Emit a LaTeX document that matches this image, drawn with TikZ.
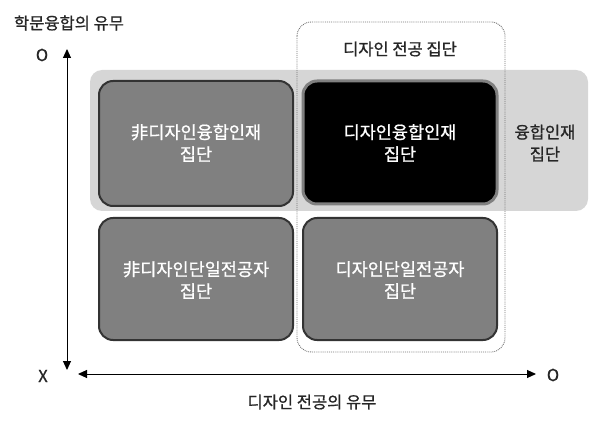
\documentclass[tikz,border=0pt]{standalone}
\usepackage{fontspec}
\setmainfont{Noto Sans CJK KR}[FakeBold=0.9]
\usetikzlibrary{arrows.meta}
\begin{document}
\begin{tikzpicture}[x=1pt,y=-1pt,
  lbl/.style={font=\fontsize{16.5}{19}\selectfont, text=black!85},
  grpbox/.style={rounded corners=14pt, line width=2pt, draw=black!80, fill=black!50},
  boxtxt/.style={font=\fontsize{17.5}{22}\selectfont, text=white, align=center},
  arr/.style={line width=1pt, -{Triangle[length=9pt,width=8pt]}},
]
\useasboundingbox (0,0) rectangle (600,422);
% light band
\fill[black!16, rounded corners=12pt] (90,70) rectangle (588,211);
% dashed group
\draw[black!55, densely dotted, line width=0.9pt, rounded corners=14pt] (297,22) rectangle (505,352);
\node[lbl] (design) at (400,49) {디자인 전공 집단};
% boxes
\draw[grpbox] (99,81) rectangle (293,206);
\node[boxtxt] (b1) at (196,143) {非디자인융합인재\\집단};
\draw[rounded corners=14pt, line width=3pt, draw=black!50, fill=black] (303,81) rectangle (497,204);
\node[boxtxt] (b2) at (400,143) {디자인융합인재\\집단};
\draw[grpbox] (99,218) rectangle (293,340);
\node[boxtxt] (b3) at (196,280) {非디자인단일전공자\\집단};
\draw[grpbox] (303,218) rectangle (497,340);
\node[boxtxt] (b4) at (400,280) {디자인단일전공자\\집단};
\node[lbl, align=center, font=\fontsize{16.5}{22}\selectfont] (fus) at (545,143) {융합인재\\집단};
% axes
\coordinate (vt) at (67,49);
\coordinate (vb) at (67,370);
\coordinate (hl) at (78,374);
\coordinate (hr) at (536,374);
\coordinate (vm) at (67,200);
\coordinate (hm) at (300,374);
\draw[arr] (vm) -- (vt);
\draw[arr] (vm) -- (vb);
\draw[arr] (hm) -- (hl);
\draw[arr] (hm) -- (hr);
\node[lbl] (ytitle) at (69,23) {학문융합의 유무};
\node[lbl] (yo) at (42,55) {O};
\node[lbl] (yx) at (43,376) {X};
\node[lbl] (xo) at (553,375) {O};
\node[lbl] (xtitle) at (312,402) {디자인 전공의 유무};
\end{tikzpicture}
\end{document}
